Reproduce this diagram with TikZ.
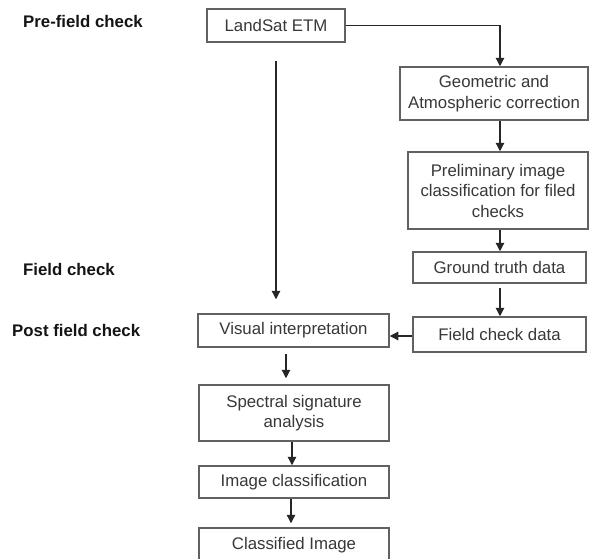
\documentclass[tikz,border=0pt]{standalone}
\usepackage{fontspec}
\setmainfont{Liberation Sans}
\usetikzlibrary{arrows.meta}
\begin{document}
\begin{tikzpicture}[x=1pt,y=-1pt,
  box/.style={draw=black!62,line width=1.5pt,inner sep=0pt,align=center,
    text=black!78,font=\fontsize{16.8}{20.5}\selectfont},
  lbl/.style={anchor=west,inner sep=0pt,font=\fontsize{16.8}{20}\selectfont\bfseries,text=black!92},
  arr/.style={draw=black!85,line width=1.2pt,-{Triangle[width=8.5pt,length=8.5pt]}},
  ln/.style={draw=black!70,line width=1.1pt}]
\path[use as bounding box,clip] (0,0) rectangle (590,558);
\fill[white] (0,0) rectangle (590,558);
% phase labels
\node[lbl] (pre) at (23,21) {Pre-field check};
\node[lbl] (fc) at (23,269) {Field check};
\node[lbl] (post) at (12,330) {Post field check};
% boxes
\node[box,minimum width=138pt,minimum height=33pt] (land) at (276,25.5) {LandSat ETM};
\node[box,minimum width=188pt,minimum height=53pt] (geo) at (494,93.5) {Geometric and\\Atmospheric correction};
\node[box,minimum width=180pt,minimum height=77pt] (prelim) at (498,190.5) {Preliminary image\\classification for filed\\checks};
\node[box,minimum width=173pt,minimum height=31pt] (ground) at (499.5,267.5) {Ground truth data};
\node[box,minimum width=173pt,minimum height=35pt] (fcd) at (499.5,334.5) {Field check data};
\node[box,minimum width=191pt,minimum height=33pt] (visual) at (293.5,330.5) {Visual interpretation};
\node[box,minimum width=190pt,minimum height=56pt] (spectral) at (294,413) {Spectral signature\\analysis};
\node[box,minimum width=190pt,minimum height=32pt] (imgcls) at (294,482) {Image classification};
\node[box,minimum width=190pt,minimum height=34pt] (classified) at (294,545) {Classified Image};
% connectors
\draw[arr] (land.east) -| ([xshift=6pt]geo.north);
\draw[arr] ([xshift=6pt]geo.south) -- ([xshift=2pt]prelim.north);
\draw[arr] ([xshift=2pt]prelim.south) -- ([xshift=0.5pt]ground.north);
\draw[arr,shorten <=4pt] ([xshift=0.5pt]ground.south) -- ([xshift=0.5pt]fcd.north);
\draw[arr,shorten <=18pt,shorten >=14pt] (land.south) -- (land.south |- visual.north);
\draw[arr] ([yshift=-1.5pt]fcd.west) -- ([yshift=-1.5pt]fcd.west -| visual.east);
\draw[arr,shorten <=6pt,shorten >=6pt] ([xshift=-7.5pt]visual.south) -- ([xshift=-7.5pt]visual.south |- spectral.north);
\draw[arr] ([xshift=-2pt]spectral.south) -- ([xshift=-2pt]imgcls.north);
\draw[arr,shorten >=4pt] ([xshift=-3pt]imgcls.south) -- ([xshift=-3pt]classified.north);
\end{tikzpicture}
\end{document}
